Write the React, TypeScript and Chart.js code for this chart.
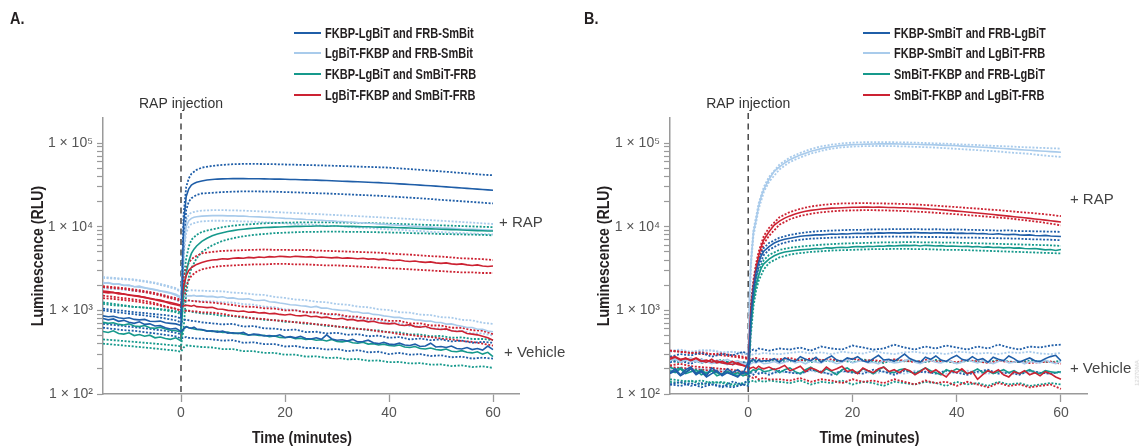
import React, { useEffect, useRef } from 'react';
import { Chart, registerables } from 'chart.js';

Chart.register(...registerables);

// ---------- time grids (minutes) ----------
const T = [-15, -14, -13, -12, -11, -10, -9, -8, -7, -6, -5, -4, -3, -2, -1, 0, 0.25, 0.5, 1, 1.5, 2, 2.5, 3,
  4, 5, 6, 7, 8, 9, 10, 11, 12, 13, 14, 15, 16, 17, 18, 19, 20, 21, 22, 23, 24, 25, 26, 27, 28, 29, 30, 31, 32, 33,
  34, 35, 36, 37, 38, 39, 40, 41, 42, 43, 44, 45, 46, 47, 48, 49, 50, 51, 52, 53, 54, 55, 56, 57, 58, 59, 60];
const TB = [-15, -13, -11, -9, -7, -5, -3, -1, 0, 0.5, 1, 1.5, 2, 3, 4,
  6, 8, 10, 12, 14, 16, 18, 20, 22, 24, 26, 28, 30, 32, 34, 36, 38, 40, 42, 44, 46, 48, 50, 52, 54, 56, 58, 60];

const X_TICKS = [0, 20, 40, 60];
const Y_TICKS = [100, 200, 300, 400, 500, 600, 700, 800, 900, 1000, 2000, 3000, 4000, 5000, 6000, 7000, 8000, 9000,
  10000, 20000, 30000, 40000, 50000, 60000, 70000, 80000, 90000, 100000];

const LEGEND_A = ['FKBP-LgBiT and FRB-SmBit', 'LgBiT-FKBP and FRB-SmBit', 'FKBP-LgBiT and SmBiT-FRB', 'LgBiT-FKBP and SmBiT-FRB'];
const LEGEND_B = ['FKBP-SmBiT and FRB-LgBiT', 'FKBP-SmBiT and LgBiT-FRB', 'SmBiT-FKBP and FRB-LgBiT', 'SmBiT-FKBP and LgBiT-FRB'];

// ---------- Panel A : means on T, bands (upper / lower) on TB ----------
const A_BLUE_RAP = [860, 840, 850, 815, 800, 815, 780, 770, 780, 740, 735, 745, 710, 700, 690, 660,
  2500, 11000, 23000, 28500, 31500, 33000, 34000,
  35300, 36200, 36800, 37200, 37400, 37600, 37700, 37700, 37700, 37600,
  37600, 37500, 37400, 37300, 37200, 37100, 37000, 36800, 36700, 36500,
  36400, 36200, 36100, 35900, 35700, 35500, 35300, 35100, 34900, 34700,
  34500, 34300, 34100, 33900, 33700, 33400, 33200, 32900, 32600, 32400,
  32100, 31800, 31500, 31200, 30900, 30600, 30300, 30000, 29700, 29400,
  29100, 28800, 28500, 28200, 27900, 27600, 27300];
const A_BLUE_RAP_HI = [1050, 1010, 990, 950, 930, 900, 880, 840, 800,
  14000, 30000, 38000, 43000, 48000, 51000,
  53500, 55000, 56000, 56500, 56500, 56300, 56000, 55600, 55200, 54800,
  54400, 54000, 53500, 53000, 52500, 52000, 51500, 51000, 50000, 49000,
  48000, 47000, 46000, 45000, 44000, 43000, 42000, 41300];
const A_BLUE_RAP_LO = [690, 670, 650, 630, 610, 590, 570, 540, 520,
  5000, 16000, 20000, 22000, 24000, 25000,
  25500, 26000, 26300, 26500, 26500, 26400, 26300, 26000, 25800, 25500,
  25200, 25000, 24700, 24400, 24100, 23800, 23500, 23100, 22700, 22300,
  21900, 21500, 21000, 20600, 20200, 19800, 19400, 19000];

const A_LB_RAP = [2150, 2120, 2080, 2060, 2000, 1980, 1930, 1900, 1870, 1800, 1760, 1720, 1650, 1600, 1520, 1400,
  2500, 6000, 10000, 11800, 12600, 13000, 13200,
  13400, 13500, 13600, 13650, 13600, 13500, 13550, 13400, 13450, 13300,
  13200, 13150, 13000, 12950, 12800, 12750, 12600, 12550, 12400, 12350,
  12200, 12150, 12000, 11950, 11800, 11750, 11600, 11550, 11400, 11350,
  11200, 11150, 11000, 10950, 10800, 10750, 10600, 10550, 10400, 10350,
  10200, 10150, 10000, 9950, 9900, 9800, 9700, 9650, 9600, 9500,
  9400, 9350, 9300, 9250, 9200, 9150, 9100];
const A_LB_RAP_HI = [2500, 2450, 2400, 2350, 2250, 2150, 2000, 1850, 1700,
  7000, 12000, 14000, 14800, 15300, 15600,
  15800, 15800, 15700, 15600, 15400, 15200, 15000, 14800, 14600, 14400,
  14200, 14000, 13800, 13600, 13400, 13200, 13000, 12800, 12600, 12400,
  12200, 12000, 11800, 11600, 11400, 11200, 11000, 10800];
const A_LB_RAP_LO = [1850, 1800, 1780, 1720, 1680, 1600, 1500, 1350, 1250,
  4500, 8500, 10000, 10800, 11300, 11600,
  11800, 11800, 11700, 11600, 11500, 11300, 11200, 11000, 10800, 10700,
  10500, 10300, 10200, 10000, 9800, 9700, 9500, 9300, 9200, 9000,
  8900, 8700, 8600, 8500, 8400, 8300, 8200, 8100];

const A_TEAL_RAP = [720, 700, 710, 680, 670, 690, 650, 640, 660, 620, 610, 630, 600, 580, 570, 550,
  900, 1600, 2800, 3900, 4800, 5400, 5900,
  6700, 7300, 7800, 8200, 8500, 8800, 9000, 9200, 9350, 9500,
  9600, 9700, 9800, 9850, 9900, 9950, 10000, 10050, 10100, 10100,
  10150, 10150, 10200, 10200, 10150, 10200, 10200, 10150, 10100, 10100,
  10050, 10000, 10000, 9950, 9900, 9900, 9850, 9800, 9750, 9700,
  9650, 9600, 9550, 9500, 9450, 9400, 9350, 9300, 9250, 9200,
  9150, 9100, 9050, 9000, 8950, 8900, 8900];
const A_TEAL_RAP_HI = [1250, 1200, 1150, 1100, 1080, 1050, 1000, 950, 900,
  2500, 4200, 5800, 7000, 8000, 8700,
  9300, 9900, 10300, 10600, 10800, 11000, 11100, 11200, 11250, 11300,
  11300, 11300, 11250, 11200, 11150, 11100, 11000, 10900, 10800, 10700,
  10600, 10500, 10400, 10300, 10200, 10100, 10000, 9900];
const A_TEAL_RAP_LO = [450, 440, 430, 420, 410, 400, 390, 380, 370,
  600, 1600, 2500, 3200, 4200, 5000,
  6000, 6800, 7300, 7700, 8000, 8200, 8400, 8500, 8600, 8700,
  8700, 8750, 8750, 8700, 8700, 8650, 8600, 8550, 8500, 8400,
  8350, 8300, 8200, 8150, 8100, 8050, 8000, 7900];

const A_RED_RAP = [1700, 1680, 1640, 1620, 1560, 1540, 1500, 1460, 1440, 1380, 1340, 1300, 1260, 1200, 1170, 1130,
  1500, 2000, 2600, 3000, 3250, 3400, 3550,
  3750, 3900, 4000, 4050, 4150, 4100, 4200, 4250, 4200, 4300,
  4250, 4350, 4300, 4400, 4350, 4450, 4400, 4350, 4450, 4400,
  4350, 4400, 4300, 4350, 4300, 4250, 4300, 4200, 4250, 4200,
  4150, 4200, 4100, 4150, 4050, 4100, 4000, 3950, 4000, 3900,
  3850, 3900, 3800, 3750, 3800, 3700, 3650, 3700, 3600, 3550,
  3600, 3500, 3450, 3500, 3400, 3350, 3400];
const A_RED_RAP_HI = [1950, 1900, 1850, 1780, 1700, 1620, 1500, 1400, 1350,
  2500, 3200, 3700, 4100, 4500, 4800,
  5000, 5150, 5200, 5250, 5300, 5350, 5300, 5300, 5250, 5300,
  5200, 5150, 5100, 5050, 5000, 4950, 4900, 4800, 4700, 4650,
  4550, 4450, 4400, 4300, 4200, 4150, 4100, 4000];
const A_RED_RAP_LO = [1500, 1450, 1400, 1350, 1300, 1220, 1120, 1050, 980,
  1200, 2000, 2300, 2600, 2900, 3100,
  3300, 3400, 3450, 3500, 3550, 3550, 3600, 3600, 3550, 3550,
  3500, 3450, 3450, 3400, 3350, 3300, 3250, 3200, 3150, 3100,
  3050, 3000, 2950, 2900, 2850, 2850, 2800, 2800];

const A_BLUE_VEH = [800, 770, 790, 740, 760, 720, 700, 730, 680, 690, 650, 660, 620, 600, 610, 560,
  580, 600, 640, 620, 610, 630, 600,
  590, 565, 570, 550, 565, 535, 540, 530, 545, 505,
  520, 515, 495, 500, 490, 510, 475, 485, 470, 490,
  460, 455, 470, 450, 510, 455, 440, 445, 430, 450,
  420, 425, 440, 410, 400, 415, 395, 390, 405, 385,
  380, 395, 370, 375, 405, 365, 370, 360, 375, 350,
  345, 360, 340, 350, 335, 375, 340];
const A_BLUE_VEH_HI = [1000, 960, 930, 900, 870, 840, 800, 760, 720,
  760, 780, 760, 750, 740, 720,
  700, 680, 690, 640, 650, 610, 605, 580, 590, 550,
  555, 530, 540, 510, 520, 490, 500, 470, 480, 450,
  460, 440, 450, 425, 435, 410, 420, 410];
const A_BLUE_VEH_LO = [620, 600, 580, 570, 550, 530, 510, 490, 460,
  470, 480, 470, 470, 460, 460,
  450, 435, 440, 410, 415, 395, 395, 370, 375, 355,
  355, 340, 345, 325, 335, 315, 320, 300, 310, 295,
  300, 285, 290, 275, 280, 265, 272, 265];

const A_LB_VEH = [2100, 2150, 2050, 2080, 1990, 2010, 1920, 1950, 1850, 1820, 1780, 1700, 1680, 1620, 1560, 1450,
  1400, 1420, 1480, 1500, 1490, 1510, 1480,
  1490, 1460, 1470, 1430, 1455, 1400, 1410, 1370, 1365, 1380,
  1320, 1315, 1330, 1270, 1255, 1225, 1200, 1170, 1160, 1135,
  1125, 1090, 1115, 1065, 1070, 1030, 1015, 995, 1000, 955,
  955, 925, 930, 895, 885, 860, 845, 825, 825, 795,
  795, 770, 765, 745, 745, 715, 715, 685, 690, 665,
  645, 625, 625, 595, 595, 565, 555];
const A_LB_VEH_HI = [2450, 2400, 2350, 2300, 2200, 2100, 1950, 1800, 1650,
  1650, 1700, 1720, 1740, 1730, 1720,
  1700, 1690, 1630, 1610, 1550, 1530, 1450, 1410, 1350, 1330,
  1270, 1250, 1190, 1170, 1110, 1090, 1030, 1010, 950, 940,
  890, 880, 830, 820, 770, 760, 710, 690];
const A_LB_VEH_LO = [1850, 1820, 1780, 1720, 1660, 1600, 1480, 1330, 1250,
  1250, 1280, 1300, 1300, 1300, 1290,
  1280, 1250, 1240, 1190, 1170, 1110, 1090, 1030, 1010, 950,
  940, 890, 880, 830, 820, 770, 760, 710, 700, 650,
  650, 610, 610, 570, 570, 530, 530, 500];

const A_TEAL_VEH = [560, 545, 570, 530, 520, 540, 500, 515, 490, 505, 470, 480, 460, 450, 470, 430,
  560, 600, 640, 620, 610, 600, 590,
  585, 570, 560, 565, 545, 550, 530, 535, 520, 510,
  515, 500, 505, 485, 495, 475, 470, 480, 460, 465,
  450, 455, 440, 445, 430, 450, 425, 420, 430, 410,
  405, 415, 395, 400, 385, 395, 380, 375, 385, 365,
  360, 370, 350, 345, 355, 340, 335, 345, 325, 320,
  330, 315, 310, 320, 300, 315, 280];
const A_TEAL_VEH_HI = [1200, 1150, 1130, 1100, 1080, 1050, 1020, 980, 950,
  1000, 1000, 980, 960, 940, 920,
  900, 860, 855, 820, 805, 770, 765, 730, 725, 690,
  685, 650, 645, 610, 605, 580, 575, 545, 545, 515,
  515, 490, 495, 470, 475, 455, 455, 440];
const A_TEAL_VEH_LO = [400, 390, 380, 370, 360, 350, 340, 330, 320,
  360, 380, 380, 375, 370, 365,
  360, 345, 345, 325, 325, 310, 310, 295, 295, 280,
  282, 270, 272, 260, 262, 250, 252, 240, 242, 232,
  234, 224, 226, 216, 220, 210, 214, 205];

const A_RED_VEH = [1650, 1620, 1640, 1570, 1580, 1520, 1500, 1480, 1420, 1400, 1360, 1330, 1280, 1240, 1200, 1150,
  1120, 1130, 1150, 1140, 1120, 1150, 1110,
  1100, 1080, 1090, 1040, 1030, 1000, 990, 970, 985, 950,
  960, 930, 940, 910, 920, 895, 880, 900, 870, 860,
  875, 840, 850, 820, 830, 800, 790, 805, 770, 780,
  750, 760, 730, 740, 710, 700, 690, 700, 670, 660,
  675, 640, 630, 645, 610, 600, 590, 600, 570, 560,
  565, 530, 520, 510, 490, 470, 440];
const A_RED_VEH_HI = [1900, 1850, 1800, 1720, 1650, 1560, 1450, 1350, 1300,
  1300, 1310, 1320, 1300, 1280, 1260,
  1240, 1200, 1160, 1110, 1100, 1060, 1050, 1000, 1000, 950,
  950, 900, 900, 850, 840, 800, 790, 750, 750, 700,
  700, 660, 660, 620, 620, 580, 570, 520];
const A_RED_VEH_LO = [1400, 1370, 1330, 1290, 1230, 1180, 1100, 1040, 1000,
  980, 990, 990, 980, 970, 950,
  940, 910, 860, 840, 800, 790, 760, 750, 720, 710,
  680, 670, 640, 630, 600, 590, 560, 550, 520, 510,
  490, 480, 460, 450, 430, 420, 400, 380];

// ---------- Panel B ----------
const B_BLUE_RAP = [175, 190, 165, 180, 200, 170, 185, 160, 175, 190, 165, 180, 170, 160, 185, 175,
  400, 800, 1800, 2800, 3700, 4500, 5100,
  5800, 6400, 6800, 7100, 7300, 7500, 7700, 7800, 7900, 8000,
  8000, 8100, 8200, 8150, 8250, 8200, 8300, 8350, 8300, 8400,
  8350, 8450, 8400, 8500, 8450, 8400, 8500, 8450, 8550, 8450,
  8500, 8400, 8500, 8450, 8400, 8450, 8350, 8400, 8300, 8350,
  8250, 8300, 8200, 8150, 8250, 8100, 8050, 8150, 8000, 7950,
  8000, 7850, 7800, 7900, 7750, 7700, 7650];
const B_BLUE_RAP_HI = [240, 250, 230, 260, 235, 245, 225, 240, 230,
  1000, 2100, 3200, 4100, 5600, 6400,
  7400, 8000, 8400, 8700, 8900, 9000, 9100, 9200, 9200, 9300,
  9300, 9400, 9350, 9400, 9300, 9350, 9250, 9300, 9200, 9150,
  9100, 9000, 9050, 8900, 8850, 8800, 8750, 8700];
const B_BLUE_RAP_LO = [130, 125, 135, 120, 130, 125, 120, 130, 125,
  650, 1500, 2450, 3300, 4600, 5300,
  6200, 6700, 7000, 7200, 7300, 7400, 7500, 7500, 7550, 7600,
  7600, 7650, 7600, 7600, 7550, 7550, 7500, 7450, 7400, 7400,
  7350, 7300, 7250, 7200, 7100, 7050, 7000, 6900];

const B_LB_RAP = [250, 260, 240, 255, 245, 250, 235, 245, 230, 240, 235, 225, 240, 230, 220, 230,
  1500, 3500, 8500, 12000, 17500, 23000, 28000,
  37000, 46000, 52000, 58000, 63500, 68000, 72000, 76000, 80000, 83000,
  86000, 88500, 90500, 92500, 94000, 95000, 96000, 96500, 97000, 97500,
  97800, 98000, 98000, 98000, 98000, 97800, 97500, 97200, 97000, 96600,
  96200, 95800, 95300, 94800, 94200, 93600, 93000, 92300, 91500, 90700,
  90000, 89300, 88600, 87800, 87000, 86200, 85400, 84600, 83800, 83000,
  82300, 81500, 80700, 80000, 79300, 78600, 78000];
const B_LB_RAP_HI = [330, 340, 320, 335, 330, 310, 320, 300, 300,
  3800, 9200, 13000, 19000, 30000, 39500,
  55500, 67500, 76500, 85000, 91500, 96000, 99500, 101500, 102500, 103000,
  103000, 102500, 102000, 101500, 100500, 99500, 98500, 97000, 96000, 95000,
  93500, 92500, 91500, 90000, 89000, 88000, 87000, 86000];
const B_LB_RAP_LO = [190, 200, 185, 195, 180, 190, 175, 170, 170,
  3200, 7800, 11000, 16200, 26000, 34500,
  48500, 59500, 67500, 75000, 81000, 86000, 89000, 91000, 92000, 92500,
  92500, 92000, 91500, 90500, 89500, 88500, 87000, 85500, 84000, 82500,
  81000, 79500, 77500, 76000, 74500, 72000, 70000, 68500];

const B_TEAL_RAP = [190, 180, 200, 175, 185, 195, 170, 180, 190, 165, 175, 185, 170, 180, 165, 175,
  350, 650, 1300, 2000, 2600, 3200, 3600,
  4100, 4500, 4800, 5000, 5100, 5200, 5300, 5350, 5400, 5500,
  5450, 5600, 5550, 5650, 5700, 5650, 5750, 5800, 5750, 5850,
  5800, 5900, 5850, 5950, 5900, 5950, 6000, 5950, 6000, 5900,
  6000, 5950, 5900, 5950, 5850, 5900, 5850, 5800, 5850, 5750,
  5800, 5700, 5750, 5650, 5700, 5600, 5650, 5550, 5600, 5500,
  5450, 5500, 5400, 5300, 5350, 5200, 5350];
const B_TEAL_RAP_HI = [250, 240, 260, 235, 245, 255, 230, 240, 235,
  850, 1550, 2350, 3000, 4000, 4600,
  5300, 5600, 5800, 5950, 6100, 6200, 6300, 6350, 6400, 6450,
  6500, 6500, 6550, 6550, 6500, 6500, 6450, 6450, 6400, 6350,
  6300, 6250, 6200, 6150, 6100, 6050, 6000, 5900];
const B_TEAL_RAP_LO = [140, 135, 145, 130, 140, 135, 125, 130, 130,
  500, 1100, 1700, 2250, 3100, 3700,
  4300, 4650, 4850, 5000, 5100, 5200, 5250, 5300, 5350, 5400,
  5400, 5450, 5450, 5400, 5400, 5350, 5300, 5300, 5250, 5200,
  5150, 5100, 5050, 5000, 4950, 4900, 4850, 4800];

const B_RED_RAP = [270, 280, 260, 265, 255, 270, 250, 240, 260, 235, 245, 230, 225, 235, 220, 210,
  500, 1000, 2000, 3200, 4500, 5800, 7000,
  8700, 10500, 11700, 12700, 13500, 14200, 14800, 15300, 15700, 16000,
  16300, 16500, 16700, 16800, 16900, 17000, 17100, 17100, 17200, 17200,
  17100, 17200, 17100, 17000, 17000, 16900, 16900, 16800, 16700, 16600,
  16500, 16300, 16200, 16000, 15800, 15600, 15400, 15200, 15000, 14800,
  14600, 14400, 14200, 14000, 13800, 13600, 13400, 13200, 13000, 12800,
  12600, 12400, 12200, 12000, 11800, 11600, 11400];
const B_RED_RAP_HI = [330, 320, 310, 300, 300, 290, 280, 270, 260,
  1200, 2300, 3600, 5000, 7800, 9700,
  13000, 15000, 16400, 17500, 18200, 18700, 19000, 19100, 19200, 19100,
  19000, 18900, 18700, 18500, 18200, 17900, 17500, 17200, 16800, 16500,
  16100, 15800, 15400, 15000, 14700, 14300, 13900, 13400];
const B_RED_RAP_LO = [220, 230, 215, 210, 205, 200, 195, 185, 180,
  850, 1750, 2800, 4000, 6300, 7800,
  10600, 12300, 13500, 14300, 14900, 15300, 15600, 15700, 15800, 15800,
  15700, 15600, 15400, 15200, 15000, 14700, 14400, 14100, 13800, 13500,
  13200, 12900, 12600, 12200, 11800, 11400, 10900, 10400];

const B_BLUE_VEH = [180, 200, 170, 195, 210, 175, 190, 165, 205, 185, 170, 200, 180, 195, 175, 240,
  230, 250, 260, 240, 255, 245, 250,
  250, 265, 240, 270, 255, 245, 280, 260, 250, 275,
  240, 265, 285, 255, 245, 270, 260, 280, 250, 240,
  265, 290, 255, 260, 245, 270, 300, 265, 250, 240,
  275, 260, 285, 255, 245, 270, 290, 260, 250, 280,
  255, 265, 240, 275, 260, 250, 285, 265, 240, 255,
  270, 250, 245, 265, 280, 290, 250];
const B_BLUE_VEH_HI = [280, 300, 290, 310, 280, 300, 290, 320, 300,
  330, 340, 330, 350, 340, 330,
  350, 340, 360, 330, 370, 350, 340, 380, 360, 340,
  350, 390, 360, 340, 370, 350, 380, 360, 340, 370,
  350, 390, 360, 340, 370, 360, 380, 390];
const B_BLUE_VEH_LO = [130, 140, 125, 135, 130, 120, 140, 130, 150,
  180, 170, 185, 175, 180, 170,
  190, 180, 175, 195, 185, 170, 190, 180, 175, 195,
  185, 170, 190, 180, 185, 175, 190, 180, 170, 185,
  195, 175, 180, 170, 190, 180, 175, 185];

const B_LB_VEH = [250, 265, 240, 255, 270, 245, 260, 250, 235, 255, 245, 260, 240, 250, 230, 235,
  220, 230, 240, 235, 245, 240, 230,
  235, 245, 230, 240, 255, 235, 245, 230, 250, 240,
  235, 255, 245, 230, 240, 260, 235, 245, 250, 235,
  240, 230, 255, 245, 235, 240, 250, 265, 240, 230,
  245, 255, 240, 235, 250, 245, 230, 240, 260, 245,
  235, 250, 240, 230, 245, 255, 235, 240, 250, 230,
  245, 240, 235, 255, 240, 230, 245];
const B_LB_VEH_HI = [320, 330, 310, 325, 335, 315, 320, 310, 300,
  290, 300, 305, 300, 310, 305,
  300, 310, 320, 305, 315, 300, 320, 310, 305, 325,
  310, 300, 315, 320, 305, 310, 300, 320, 315, 305,
  310, 300, 315, 310, 320, 305, 300, 310];
const B_LB_VEH_LO = [200, 210, 195, 205, 190, 200, 185, 180, 180,
  175, 180, 185, 180, 185, 180,
  180, 185, 175, 190, 180, 175, 185, 180, 190, 175,
  185, 180, 175, 190, 180, 185, 175, 180, 190, 180,
  175, 185, 180, 175, 185, 180, 175, 180];

const B_TEAL_VEH = [210, 195, 205, 185, 200, 180, 195, 175, 190, 180, 170, 185, 175, 165, 180, 170,
  180, 185, 195, 190, 200, 195, 185,
  190, 200, 180, 195, 205, 185, 175, 195, 210, 190,
  180, 200, 185, 170, 195, 205, 185, 180, 200, 190,
  175, 195, 210, 185, 180, 195, 200, 185, 175, 190,
  205, 190, 180, 170, 195, 185, 200, 190, 175, 185,
  200, 180, 190, 175, 185, 195, 180, 190, 175, 185,
  195, 180, 175, 190, 185, 180, 185];
const B_TEAL_VEH_HI = [260, 250, 255, 240, 250, 235, 245, 230, 240,
  250, 245, 255, 250, 245, 250,
  250, 245, 260, 240, 255, 245, 250, 240, 260, 245,
  235, 255, 245, 250, 240, 255, 245, 235, 250, 245,
  240, 255, 245, 240, 250, 245, 240, 250];
const B_TEAL_VEH_LO = [150, 145, 140, 145, 135, 140, 130, 135, 140,
  140, 145, 140, 145, 140, 145,
  140, 135, 145, 130, 140, 135, 145, 130, 140, 135,
  125, 140, 135, 130, 140, 135, 125, 140, 130, 135,
  125, 140, 130, 135, 125, 130, 135, 130];

const B_RED_VEH = [260, 275, 255, 270, 250, 265, 245, 255, 240, 250, 235, 230, 245, 225, 220, 210,
  200, 205, 210, 200, 215, 205, 200,
  210, 195, 205, 220, 190, 200, 215, 185, 205, 195,
  180, 210, 190, 200, 215, 185, 195, 175, 205, 190,
  180, 200, 210, 185, 195, 180, 200, 190, 170, 185,
  205, 180, 195, 175, 160, 190, 180, 200, 175, 185,
  150, 170, 190, 180, 195, 170, 160, 185, 175, 190,
  170, 180, 165, 185, 175, 160, 150];
const B_RED_VEH_HI = [330, 320, 310, 315, 300, 305, 290, 280, 270,
  260, 265, 270, 260, 265, 260,
  260, 270, 250, 265, 255, 260, 245, 265, 250, 255,
  245, 260, 250, 240, 255, 245, 250, 240, 255, 245,
  235, 250, 240, 245, 235, 240, 245, 230];
const B_RED_VEH_LO = [210, 205, 200, 195, 190, 185, 180, 175, 165,
  160, 155, 160, 150, 155, 150,
  150, 145, 155, 140, 150, 145, 135, 150, 140, 145,
  135, 150, 140, 130, 145, 135, 140, 125, 140, 130,
  120, 135, 125, 130, 120, 125, 130, 115];

// ---------- styling ----------
const BLUE = '#1f5ea8';
const LIGHT = '#a9cbeb';
const TEAL = '#16998c';
const RED = '#cc2232';
const LEGEND_COLORS = [BLUE, LIGHT, TEAL, RED];
const SANS = '"Liberation Sans", Arial, Helvetica, sans-serif';

type Series = { color: string; mean: number[]; hi: number[]; lo: number[] };

// drawing order: first entry ends up on top
const SERIES_A: Series[] = [
  { color: BLUE, mean: A_BLUE_RAP, hi: A_BLUE_RAP_HI, lo: A_BLUE_RAP_LO },
  { color: BLUE, mean: A_BLUE_VEH, hi: A_BLUE_VEH_HI, lo: A_BLUE_VEH_LO },
  { color: RED, mean: A_RED_RAP, hi: A_RED_RAP_HI, lo: A_RED_RAP_LO },
  { color: RED, mean: A_RED_VEH, hi: A_RED_VEH_HI, lo: A_RED_VEH_LO },
  { color: TEAL, mean: A_TEAL_RAP, hi: A_TEAL_RAP_HI, lo: A_TEAL_RAP_LO },
  { color: TEAL, mean: A_TEAL_VEH, hi: A_TEAL_VEH_HI, lo: A_TEAL_VEH_LO },
  { color: LIGHT, mean: A_LB_RAP, hi: A_LB_RAP_HI, lo: A_LB_RAP_LO },
  { color: LIGHT, mean: A_LB_VEH, hi: A_LB_VEH_HI, lo: A_LB_VEH_LO },
];
const SERIES_B: Series[] = [
  { color: BLUE, mean: B_BLUE_RAP, hi: B_BLUE_RAP_HI, lo: B_BLUE_RAP_LO },
  { color: BLUE, mean: B_BLUE_VEH, hi: B_BLUE_VEH_HI, lo: B_BLUE_VEH_LO },
  { color: RED, mean: B_RED_RAP, hi: B_RED_RAP_HI, lo: B_RED_RAP_LO },
  { color: RED, mean: B_RED_VEH, hi: B_RED_VEH_HI, lo: B_RED_VEH_LO },
  { color: TEAL, mean: B_TEAL_RAP, hi: B_TEAL_RAP_HI, lo: B_TEAL_RAP_LO },
  { color: TEAL, mean: B_TEAL_VEH, hi: B_TEAL_VEH_HI, lo: B_TEAL_VEH_LO },
  { color: LIGHT, mean: B_LB_RAP, hi: B_LB_RAP_HI, lo: B_LB_RAP_LO },
  { color: LIGHT, mean: B_LB_VEH, hi: B_LB_VEH_HI, lo: B_LB_VEH_LO },
];

const pts = (t: number[], v: number[]) =>
  v.slice(0, t.length).map((y, i) => ({ x: t[i], y }));

function buildDatasets(series: Series[]) {
  const means = series.map((s) => ({
    data: pts(T, s.mean), borderColor: s.color, borderWidth: 1.6, pointRadius: 0, tension: 0, fill: false,
  }));
  const bands = series.flatMap((s) => [s.hi, s.lo].map((b) => ({
    data: pts(TB, b), borderColor: s.color, borderWidth: 1.8, borderDash: [2, 1.6], pointRadius: 0, tension: 0, fill: false,
  })));
  return [...means, ...bands];
}

const SUP: Record<number, string> = { 2: '\u00B2', 3: '\u00B3', 4: '\u2074', 5: '\u2075' };
const yLabel = (v: number) => {
  const l = Math.log10(v);
  const r = Math.round(l);
  return Math.abs(l - r) < 1e-6 ? `1 \u00D7 10${SUP[r] || r}` : '';
};

function narrowText(ctx: CanvasRenderingContext2D, text: string, x: number, y: number, rot: number) {
  ctx.save();
  ctx.translate(x, y);
  ctx.rotate(rot);
  ctx.scale(0.83, 1);
  ctx.fillText(text, 0, 0);
  ctx.restore();
}

type PanelProps = {
  left: number; yW: number; rightPad: number; yTitleX: number; series: Series[];
  letter: string; legend: string[]; legendX: number; rapY: number; vehY: number; rapDx: number; vehDx: number;
};

function Panel(p: PanelProps) {
  const ref = useRef<HTMLCanvasElement | null>(null);
  useEffect(() => {
    if (!ref.current) return;
    const annot = {
      id: 'annot',
      beforeDatasetsDraw(chart: any) {
        const { ctx, scales: { x, y }, chartArea } = chart;
        const x0 = x.getPixelForValue(0);
        ctx.save();
        ctx.strokeStyle = '#2b2b2b';
        ctx.lineWidth = 1.3;
        ctx.setLineDash([6, 4.5]);
        ctx.beginPath();
        ctx.moveTo(x0, chartArea.top - 5);
        ctx.lineTo(x0, y.bottom);
        ctx.stroke();
        ctx.restore();
      },
      afterDraw(chart: any) {
        const { ctx, scales: { x, y }, chartArea } = chart;
        const x0 = x.getPixelForValue(0);
        const x60 = x.getPixelForValue(60);
        ctx.save();
        ctx.fillStyle = '#333';
        ctx.font = `14px ${SANS}`;
        ctx.textAlign = 'center';
        ctx.textBaseline = 'middle';
        ctx.fillText('RAP injection', x0, chartArea.top - 14);
        ctx.textAlign = 'left';
        ctx.font = `15px ${SANS}`;
        ctx.fillStyle = '#444';
        ctx.fillText('+ RAP', x60 + p.rapDx, y.getPixelForValue(p.rapY));
        ctx.fillText('+ Vehicle', x60 + p.vehDx, y.getPixelForValue(p.vehY));
        // axis titles (condensed bold)
        ctx.fillStyle = '#231f20';
        ctx.font = `bold 17px ${SANS}`;
        ctx.textAlign = 'center';
        narrowText(ctx, 'Time (minutes)', (chartArea.left + chartArea.right) / 2 - 9, 438, 0);
        narrowText(ctx, 'Luminescence (RLU)', p.yTitleX, (chartArea.top + chartArea.bottom) / 2, -Math.PI / 2);
        ctx.restore();
      },
    };
    const axisColor = '#9a9a9a';
    const chart = new Chart(ref.current, {
      type: 'line',
      data: { datasets: buildDatasets(p.series) as any },
      options: {
        animation: false,
        responsive: false,
        devicePixelRatio: 1,
        events: [],
        layout: { padding: { left: 0, top: 118, right: p.rightPad, bottom: 0 } },
        plugins: { legend: { display: false }, tooltip: { enabled: false } },
        scales: {
          x: {
            type: 'linear', min: -15, max: 65,
            afterFit: (s: any) => { s.height = 53; },
            afterBuildTicks: (s: any) => { s.ticks = X_TICKS.map((v) => ({ value: v })); },
            ticks: { autoSkip: false, maxRotation: 0, padding: 3, color: '#555', font: { family: SANS, size: 14 }, callback: (v: any) => String(v) },
            grid: { display: true, drawOnChartArea: false, drawTicks: true, tickLength: 8, tickColor: axisColor, tickWidth: 1.3 },
            border: { display: true, color: axisColor, width: 1.5 },
          },
          y: {
            type: 'logarithmic', min: 100, max: 200000,
            afterFit: (s: any) => { s.width = p.yW; },
            afterBuildTicks: (s: any) => { s.ticks = Y_TICKS.map((v) => ({ value: v })); },
            ticks: { autoSkip: false, padding: 4, color: '#555', font: { family: SANS, size: 14 }, callback: (v: any) => yLabel(Number(v)) },
            grid: { display: true, drawOnChartArea: false, drawTicks: true, tickLength: 6, tickColor: axisColor, tickWidth: 1.2 },
            border: { display: true, color: axisColor, width: 1.5 },
          },
        },
      } as any,
      plugins: [annot],
    });
    return () => chart.destroy();
  }, []);

  const rowsY = [33, 53, 74, 95];
  const narrow = (s: number) => ({ display: 'inline-block', transform: `scaleX(${s})`, transformOrigin: 'left center' } as const);
  return (
    <div style={{ position: 'absolute', left: p.left, top: 0, width: 574, height: 447 }}>
      <canvas ref={ref} width={574} height={447} style={{ position: 'absolute', left: 0, top: 0, width: 574, height: 447 }} />
      <div style={{ position: 'absolute', left: 10, top: 9, font: `bold 17px ${SANS}`, color: '#231f20', whiteSpace: 'nowrap' }}>
        <span style={narrow(0.85)}>{p.letter}</span>
      </div>
      {p.legend.map((label, i) => (
        <div key={label} style={{ position: 'absolute', left: p.legendX, top: rowsY[i] - 9, height: 18, display: 'flex', alignItems: 'center', whiteSpace: 'nowrap' }}>
          <div style={{ width: 27, height: 2, background: LEGEND_COLORS[i], marginRight: 4 }} />
          <span style={{ ...narrow(0.76), font: `bold 14.5px ${SANS}`, color: '#231f20' }}>{label}</span>
        </div>
      ))}
    </div>
  );
}

export default function App() {
  return (
    <div style={{ position: 'fixed', left: 0, top: 0, width: 1148, height: 447, background: '#fff', overflow: 'hidden' }}>
      <Panel left={0} yW={103} rightPad={55} yTitleX={38} series={SERIES_A} letter="A." legend={LEGEND_A}
        legendX={294} rapY={11000} vehY={310} rapDx={6} vehDx={11} />
      <Panel left={574} yW={96} rightPad={61} yTitleX={30} series={SERIES_B} letter="B." legend={LEGEND_B}
        legendX={289} rapY={21000} vehY={200} rapDx={9} vehDx={9} />
      <div style={{ position: 'absolute', left: 1124, top: 370, transform: 'rotate(-90deg)', font: `6px ${SANS}`, color: '#cfcfcf', whiteSpace: 'nowrap' }}>12370MA</div>
    </div>
  );
}
